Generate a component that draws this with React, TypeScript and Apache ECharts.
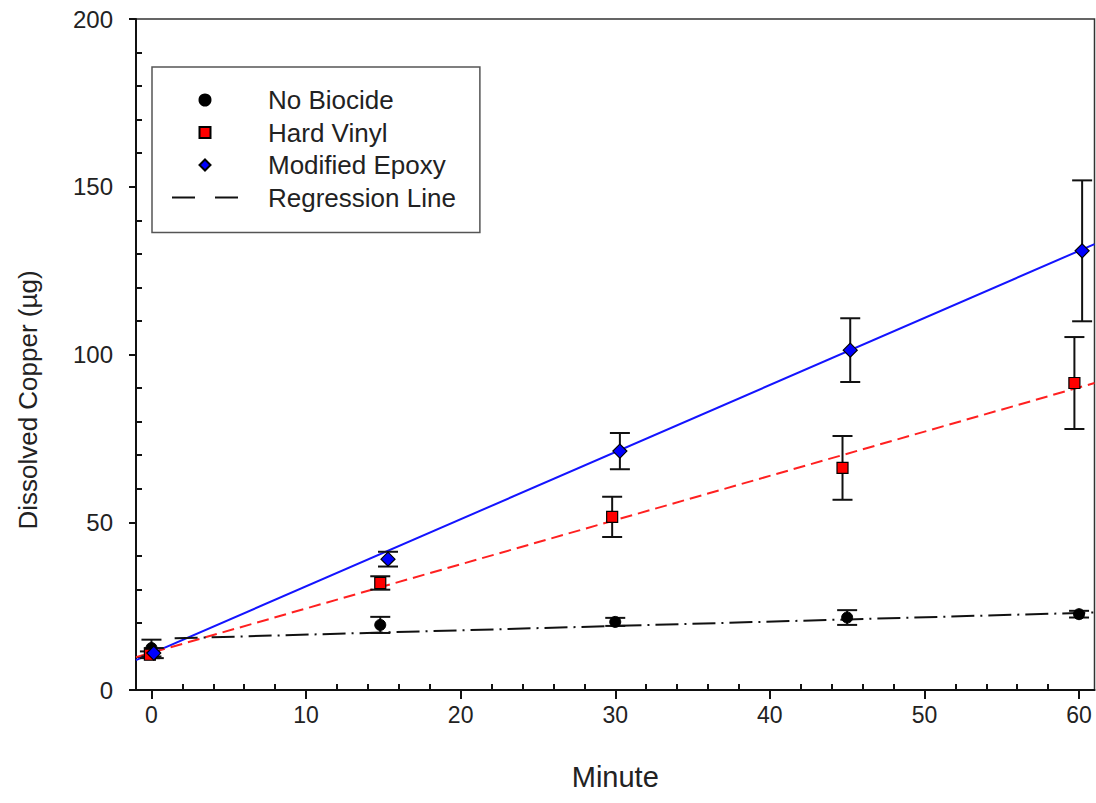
import React, { useEffect, useRef } from 'react';
import * as echarts from 'echarts';

// ---- data ----
const xTickValues = [0, 10, 20, 30, 40, 50, 60];

const noBiocideMin = [0, 14.8, 30, 45, 60];
const noBiocide = [12.5, 19.4, 20.3, 21.6, 22.6];
const noBiocideErr = [2.5, 2.4, 1.2, 2.2, 1.0];

const hardVinylMin = [-0.1, 14.8, 29.8, 44.7, 59.7];
const hardVinyl = [10.5, 31.9, 51.6, 66.2, 91.5];
const hardVinylErr = [1.0, 2.0, 6.0, 9.5, 13.7];

const epoxyMin = [0.15, 15.3, 30.3, 45.2, 60.2];
const epoxy = [11.0, 39.0, 71.2, 101.3, 130.9];
const epoxyErr = [1.5, 2.2, 5.4, 9.5, 21.0];

// regression line end points [minute, value]
const regNoBiocide = [[1.5, 15.4], [61, 23.1]];
const regHardVinyl = [[-1, 9.8], [61, 91.5]];
const regEpoxy = [[-1, 8.9], [61, 132.9]];

const FONT = '"Liberation Sans", Arial, Helvetica, sans-serif';
const DASH_ICON = 'path://M0 0h23v2h-23z M43 0h23v2h-23z';
const SQUARE_ICON = 'path://M0 0h10v10h-10z';
const DIAMOND_ICON = 'path://M6 0L12 6L6 12L0 6z';

function pts(xs: number[], ys: number[]) {
  return xs.map((x, i) => [x, ys[i]]);
}
function bars(xs: number[], ys: number[], es: number[]) {
  return xs.map((x, i) => [x, ys[i] - es[i], ys[i] + es[i]]);
}

const errRender = (params: any, api: any) => {
  const x = api.value(0);
  const lo = api.coord([x, api.value(1)]);
  const hi = api.coord([x, api.value(2)]);
  const hw = 10;
  const style = { stroke: '#111', lineWidth: 2 };
  return {
    type: 'group',
    children: [
      { type: 'line', shape: { x1: lo[0], y1: lo[1], x2: hi[0], y2: hi[1] }, style },
      { type: 'line', shape: { x1: lo[0] - hw, y1: lo[1], x2: lo[0] + hw, y2: lo[1] }, style },
      { type: 'line', shape: { x1: hi[0] - hw, y1: hi[1], x2: hi[0] + hw, y2: hi[1] }, style },
    ],
  };
};

export default function App() {
  const ref = useRef<HTMLDivElement>(null);
  useEffect(() => {
    if (!ref.current) return;
    const chart = echarts.init(ref.current, undefined, { renderer: 'svg' });
    const option: any = {
      animation: false,
      backgroundColor: '#fff',
      textStyle: { fontFamily: FONT },
      grid: {
        left: 136, right: 1.5, top: 19, bottom: 113,
        show: true, borderColor: '#333', borderWidth: 1.5, backgroundColor: 'transparent',
      },
      legend: {
        orient: 'vertical',
        left: 152, top: 67,
        padding: [20, 24, 22, 20],
        itemGap: 6.5,
        itemWidth: 66,
        itemHeight: 11,
        symbolKeepAspect: true,
        selectedMode: false,
        borderColor: '#555',
        borderWidth: 1.5,
        backgroundColor: '#fff',
        textStyle: { fontSize: 26, lineHeight: 26, color: '#222', fontFamily: FONT, padding: [0, 0, 0, 25] },
        data: [
          { name: 'No Biocide', icon: 'circle' },
          { name: 'Hard Vinyl', icon: SQUARE_ICON },
          { name: 'Modified Epoxy', icon: DIAMOND_ICON },
          { name: 'Regression Line', icon: DASH_ICON, itemStyle: { color: '#111', borderWidth: 0 } },
        ],
      },
      graphic: [
        {
          type: 'text', x: 28, y: 400, rotation: Math.PI / 2, z: 10,
          style: {
            text: 'Dissolved Copper (µg)', fontSize: 26, fill: '#222', fontFamily: FONT,
            textAlign: 'center', textVerticalAlign: 'middle',
          },
        },
      ],
      xAxis: {
        type: 'value', min: -1, max: 61,
        name: 'Minute', nameLocation: 'middle', nameGap: 72,
        nameTextStyle: { fontSize: 29, color: '#222', fontFamily: FONT },
        axisLine: { show: true, onZero: false, lineStyle: { color: '#111', width: 2 } },
        axisTick: { show: true, inside: false, length: 9, customValues: xTickValues, lineStyle: { color: '#111', width: 2 } },
        minorTick: { show: true, splitNumber: 5, length: -6, lineStyle: { color: '#111', width: 2 } },
        axisLabel: { customValues: xTickValues, fontSize: 23, color: '#222', margin: 13, fontFamily: FONT },
        splitLine: { show: false },
      },
      yAxis: {
        type: 'value', min: 0, max: 200, interval: 50,
        axisLine: { show: true, onZero: false, lineStyle: { color: '#111', width: 2 } },
        axisTick: { show: true, inside: false, length: 7, lineStyle: { color: '#111', width: 2 } },
        minorTick: { show: true, splitNumber: 5, length: -6, lineStyle: { color: '#111', width: 2 } },
        axisLabel: { fontSize: 24, color: '#222', margin: 23, fontFamily: FONT },
        splitLine: { show: false },
      },
      series: [
        {
          name: 'Modified Epoxy fit', type: 'line', data: regEpoxy, symbol: 'none', z: 2,
          lineStyle: { color: '#1414ff', width: 2, type: 'solid' },
        },
        {
          name: 'Hard Vinyl fit', type: 'line', data: regHardVinyl, symbol: 'none', z: 2,
          lineStyle: { color: '#ff2020', width: 2, type: [12, 6] },
        },
        {
          name: 'Regression Line', type: 'line', data: regNoBiocide, symbol: 'none', z: 2,
          lineStyle: { color: '#111', width: 2, type: [23, 6, 2, 6] },
          itemStyle: { color: '#111' },
        },
        {
          name: 'No Biocide err', type: 'custom', renderItem: errRender, z: 3,
          data: bars(noBiocideMin, noBiocide, noBiocideErr), encode: { x: 0, y: [1, 2] },
        },
        {
          name: 'Hard Vinyl err', type: 'custom', renderItem: errRender, z: 3,
          data: bars(hardVinylMin, hardVinyl, hardVinylErr), encode: { x: 0, y: [1, 2] },
        },
        {
          name: 'Modified Epoxy err', type: 'custom', renderItem: errRender, z: 3,
          data: bars(epoxyMin, epoxy, epoxyErr), encode: { x: 0, y: [1, 2] },
        },
        {
          name: 'No Biocide', type: 'scatter', data: pts(noBiocideMin, noBiocide), z: 4,
          symbol: 'circle', symbolSize: 11,
          itemStyle: { color: '#000', borderColor: '#000', borderWidth: 1, opacity: 1 },
        },
        {
          name: 'Hard Vinyl', type: 'scatter', data: pts(hardVinylMin, hardVinyl), z: 4,
          symbol: 'rect', symbolSize: 11,
          itemStyle: { color: '#ff0000', borderColor: '#000', borderWidth: 1.2, opacity: 1 },
        },
        {
          name: 'Modified Epoxy', type: 'scatter', data: pts(epoxyMin, epoxy), z: 4,
          symbol: 'diamond', symbolSize: 14,
          itemStyle: { color: '#0000ff', borderColor: '#000', borderWidth: 1.2, opacity: 1 },
        },
      ],
    };
    chart.setOption(option);
    return () => chart.dispose();
  }, []);
  return (
    <div
      ref={ref}
      style={{ position: 'fixed', left: 0, top: 0, width: 1096, height: 803, background: '#fff' }}
    />
  );
}
